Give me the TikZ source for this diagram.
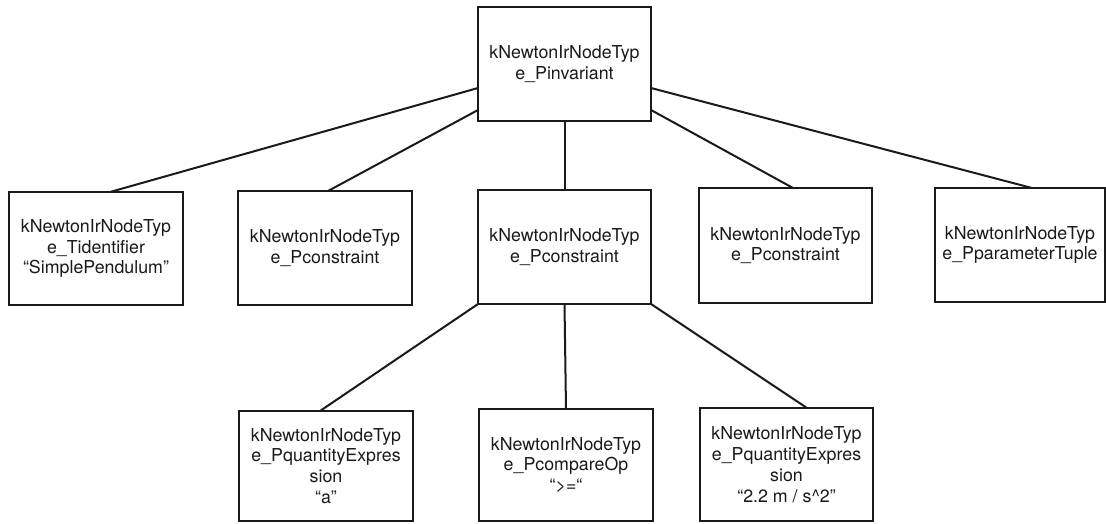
\documentclass[tikz,border=0pt]{standalone}
\usepackage{fontspec}
\setmainfont{TeX Gyre Heros}
\usetikzlibrary{calc}
\definecolor{ink}{HTML}{1A1A1A}
\tikzset{
  irbox/.style={draw=ink, line width=2pt, fill=white, inner sep=0pt, outer sep=0pt,
    align=center, text=ink, font=\fontsize{17.8}{20.8}\selectfont},
  link/.style={draw=ink, line width=2pt}
}
\begin{document}
\begin{tikzpicture}[x=1pt,y=-1pt]
  \fill[white] (0,0) rectangle (1106,523);
  \useasboundingbox (0,0) rectangle (1106,523);

  % root of the tree
  \node[irbox, minimum width=173pt, minimum height=114pt] (root) at (564.5,64)
    {kNewtonIrNodeTyp\\e\_Pinvariant};

  % second level
  \node[irbox, minimum width=174pt, minimum height=113pt] (ident) at (96,248.5)
    {kNewtonIrNodeTyp\\e\_Tidentifier\\“SimplePendulum”};
  \node[irbox, minimum width=174pt, minimum height=114pt] (consA) at (325,248)
    {kNewtonIrNodeTyp\\e\_Pconstraint};
  \node[irbox, minimum width=173pt, minimum height=114pt] (consB) at (564.5,247)
    {kNewtonIrNodeTyp\\e\_Pconstraint};
  \node[irbox, minimum width=173pt, minimum height=115pt] (consC) at (785.5,245.5)
    {kNewtonIrNodeTyp\\e\_Pconstraint};
  \node[irbox, minimum width=170pt, minimum height=114pt] (ptuple) at (1020,245)
    {kNewtonIrNodeTyp\\e\_PparameterTuple};

  % third level
  \node[irbox, minimum width=174pt, minimum height=110pt] (qexpA) at (326,466)
    {kNewtonIrNodeTyp\\e\_PquantityExpres\\sion\\“a”};
  \node[irbox, minimum width=174pt, minimum height=112pt] (cmpop) at (566,465)
    {kNewtonIrNodeTyp\\e\_PcompareOp\\“>=“};
  \node[irbox, minimum width=173pt, minimum height=113pt] (qexpB) at (786.5,464.5)
    {kNewtonIrNodeTyp\\e\_PquantityExpres\\sion\\“2.2 m / s\textasciicircum 2”};

  % connectors from the root
  \draw[link] ($(root.north west)+(0,81)$) -- ($(ident.north west)+(101,0)$);
  \draw[link] ($(root.north west)+(0,103)$) -- ($(consA.north west)+(90,0)$);
  \draw[link] (root.south) -- (consB.north);
  \draw[link] ($(root.north east)+(0,103)$) -- ($(consC.north west)+(94,0)$);
  \draw[link] ($(root.north east)+(0,81)$) -- ($(ptuple.north west)+(97,0)$);

  % connectors from the middle constraint
  \draw[link] (consB.south west) -- ($(qexpA.north west)+(81,0)$);
  \draw[link] (consB.south) -- (cmpop.north);
  \draw[link] (consB.south east) -- ($(qexpB.north west)+(107,0)$);
\end{tikzpicture}
\end{document}
